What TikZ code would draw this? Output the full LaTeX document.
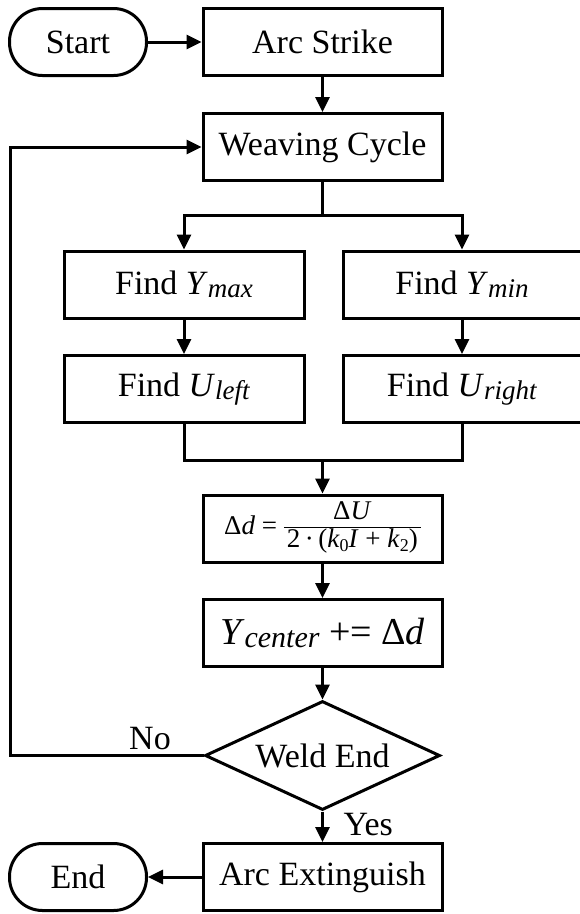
\documentclass[tikz,border=0pt]{standalone}
\usepackage{fontspec}
\setmainfont{Liberation Serif}
\usetikzlibrary{shapes.geometric,arrows.meta}
\newcommand{\sub}[1]{\raisebox{-3pt}{\fontsize{27}{30}\selectfont\textit{#1}}}
\newcommand{\lowsub}[1]{\raisebox{-4pt}{\fontsize{18}{20}\selectfont #1}}
\newcommand{\fracbox}[2]{$\vcenter{\offinterlineskip\halign{\hfil##\hfil\cr\strut#1\cr\noalign{\kern0pt\hrule height1.4pt\kern1pt}\strut\kern3pt#2\kern3pt\cr}}$}
\begin{document}
\begin{tikzpicture}[x=1pt,y=-1pt,line width=3pt,
  base/.style={draw,inner sep=0pt,font=\fontsize{34}{40}\selectfont},
  box/.style={base,minimum width=239pt,minimum height=67pt},
  term/.style={base,rounded corners=33pt,minimum width=137pt,minimum height=67pt},
  dec/.style={base,diamond,aspect=2.14,minimum width=235pt,minimum height=109pt},
  arr/.style={-{Triangle[length=15pt,width=14pt]}},
  lbl/.style={font=\fontsize{34}{40}\selectfont,inner sep=0pt}]
\useasboundingbox (0,0) rectangle (580,914);
\node[term] (start) at (78,42) {Start};
\node[box] (arc) at (322.5,42) {Arc Strike};
\node[box] (weave) at (322.5,147) {Weaving Cycle};
\node[box,minimum width=240pt] (ymax) at (184,284.5) {Find \textit{Y}\sub{max}};
\node[box,minimum width=238pt] (ymin) at (462,284.5) {Find \textit{Y}\sub{min}};
\node[box,minimum width=240pt] (uleft) at (184,389) {Find \textit{U}\sub{left}};
\node[box,minimum width=238pt] (uright) at (462,389) {Find \textit{U}\sub{right}};
\node[box,font=\fontsize{27}{24}\selectfont] (dd) at (322.5,528.5) {Δ\textit{d} = \fracbox{Δ\textit{U}}{2\,·\,(\textit{k}\lowsub{0}\textit{I} + \textit{k}\lowsub{2})}};
\node[box,font=\fontsize{38}{44}\selectfont] (yc) at (322.5,633) {\textit{Y}\raisebox{-3pt}{\fontsize{30}{34}\selectfont\textit{center}} += Δ\textit{d}};
\node[dec] (weld) at (322.5,755.5) {Weld End};
\node[box] (ext) at (322.5,877) {Arc Extinguish};
\node[term] (end) at (78,877) {End};
\coordinate (split) at (322.5,215);
\coordinate (merge) at (322.5,460);
\coordinate (loop) at (10,755.5);
\draw[arr] (start) -- (arc);
\draw[arr] (arc) -- (weave);
\draw (weave.south) -- (split);
\draw[arr] (split) -| (ymax.north);
\draw[arr] (split) -| (ymin.north);
\draw[arr] (ymax) -- (uleft);
\draw[arr] (ymin) -- (uright);
\draw (uleft.south) |- (merge);
\draw (uright.south) |- (merge);
\draw[arr] (merge) -- (dd.north);
\draw[arr] (dd) -- (yc);
\draw[arr] (yc) -- (weld);
\draw[arr] (weld.west) -- (loop) |- (weave.west);
\draw[arr] (weld) -- (ext);
\draw[arr] (ext) -- (end);
\node[lbl,anchor=base] (no) at (150,749) {No};
\node[lbl,anchor=base west] (yes) at (342,835) {Yes};
\end{tikzpicture}
\end{document}
